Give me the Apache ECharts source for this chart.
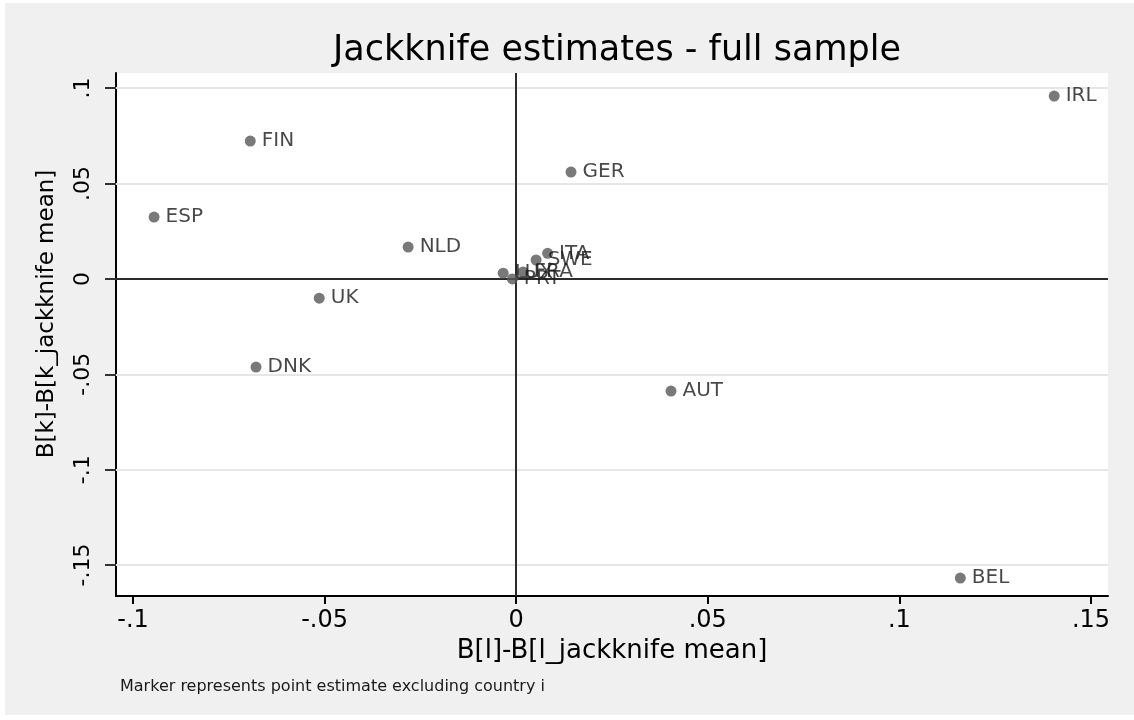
<!DOCTYPE html>
<html>
<head>
<meta charset="utf-8">
<script src="https://cdn.jsdelivr.net/npm/echarts@6/dist/echarts.min.js"></script>
<style>
  html, body { margin: 0; padding: 0; background: #fff; }
  #chart { width: 1134px; height: 720px; }
</style>
</head>
<body>
<div id="chart"></div>
<script>
// country labels and jackknife deviations
var countries = ['IRL', 'FIN', 'GER', 'ESP', 'NLD', 'ITA', 'SWE', 'LUX', 'PRT', 'FRA', 'UK', 'DNK', 'AUT', 'BEL'];
var devL = [0.1404, -0.0694, 0.0143, -0.0945, -0.0282, 0.0082, 0.0052, -0.0034, -0.0010, 0.0018, -0.0514, -0.0679, 0.0404, 0.1159];
var devK = [0.0958, 0.0722, 0.0560, 0.0324, 0.0167, 0.0134, 0.0099, 0.0030, 0.0000, 0.0036, -0.0101, -0.0462, -0.0588, -0.1568];
var xTicks = [-0.1, -0.05, 0, 0.05, 0.1, 0.15];
var yTicks = [-0.15, -0.1, -0.05, 0, 0.05, 0.1];

var FONT = '"DejaVu Sans", "Liberation Sans", sans-serif';

function stataNum(v) {
  if (v === 0) return '0';
  return String(+v.toFixed(2)).replace(/^(-?)0\./, '$1.');
}

var chart = echarts.init(document.getElementById('chart'));

var points = countries.map(function (c, i) { return [devL[i], devK[i], c]; });

var guides = yTicks.filter(function (v) { return v !== 0; }).map(function (v) {
  return { yAxis: v, lineStyle: { color: '#e6e6e6', width: 2, type: 'solid' } };
});
guides.push({ yAxis: 0, lineStyle: { color: '#2b2b2b', width: 2, type: 'solid' } });
guides.push({ xAxis: 0, lineStyle: { color: '#2b2b2b', width: 2, type: 'solid' } });

var option = {
  backgroundColor: '#ffffff',
  animation: false,
  graphic: [
    { type: 'rect', left: 5, top: 3, shape: { width: 1129, height: 712 }, style: { fill: '#f0f0f0' }, z: -10, silent: true },
    { type: 'text', left: 120, top: 679, style: { text: 'Marker represents point estimate excluding country i', fill: '#1a1a1a', font: '16px ' + FONT } },
    // y axis title, sits a bit above the plot's middle in the original
    { type: 'text', x: 47, y: 314, rotation: Math.PI / 2,
      style: { text: 'B[k]-B[k_jackknife mean]', fill: '#000', font: '23px ' + FONT, align: 'center', verticalAlign: 'middle' } }
  ],
  title: {
    text: 'Jackknife estimates - full sample',
    left: 612,
    top: 28,
    textAlign: 'center',
    textStyle: { fontFamily: FONT, fontSize: 35, fontWeight: 'normal', color: '#000' }
  },
  grid: {
    left: 116, top: 73, right: 26, bottom: 124,
    show: true, backgroundColor: '#ffffff', borderWidth: 0
  },
  xAxis: {
    type: 'value',
    min: -0.10444, max: 0.15444,
    name: 'B[l]-B[l_jackknife mean]',
    nameLocation: 'middle',
    nameGap: 42,
    nameTextStyle: { fontFamily: FONT, fontSize: 26, color: '#000' },
    axisLine: { onZero: false, lineStyle: { color: '#000', width: 2 } },
    axisTick: { show: true, length: 8, customValues: xTicks, lineStyle: { color: '#000', width: 2 } },
    axisLabel: { customValues: xTicks, formatter: stataNum, margin: 13, fontFamily: FONT, fontSize: 24, color: '#000' },
    splitLine: { show: false }
  },
  yAxis: {
    type: 'value',
    min: -0.1662, max: 0.1079,
    axisLine: { onZero: false, lineStyle: { color: '#000', width: 2 } },
    axisTick: { show: true, length: 11, customValues: yTicks, lineStyle: { color: '#333', width: 2 } },
    axisLabel: { customValues: yTicks, formatter: stataNum, rotate: 90, margin: 22, fontFamily: FONT, fontSize: 22, color: '#000' },
    splitLine: { show: false }
  },
  series: [{
    type: 'scatter',
    data: points,
    symbol: 'circle',
    symbolSize: 11,
    itemStyle: { color: '#585858' },
    label: {
      show: true,
      position: 'right',
      distance: 6,
      formatter: function (p) { return p.data[2]; },
      fontFamily: FONT,
      fontSize: 20,
      color: '#1a1a1a'
    },
    markLine: {
      silent: true,
      z: 1,
      symbol: ['none', 'none'],
      label: { show: false },
      data: guides
    },
    z: 3
  }]
};

chart.setOption(option);
</script>
</body>
</html>
